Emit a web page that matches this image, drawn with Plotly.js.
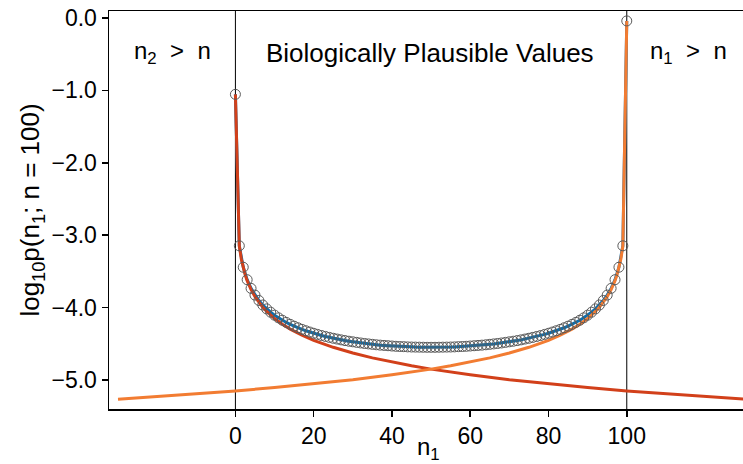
<!DOCTYPE html>
<html>
<head>
<meta charset="utf-8">
<script src="https://cdn.plot.ly/plotly-3.0.1.min.js"></script>
<style>html,body{margin:0;padding:0;background:#fff;}#chart{width:743px;height:464px;}</style>
</head>
<body>
<div id="chart"></div>
<script>
// n1 values for the sampled points (circles)
const n1Values = Array.from({length: 101}, (_, i) => i);
// log10 p(n1; n=100), n1 = 0..50 (left half)
const pointsLeft = [-1.054, -3.146, -3.442, -3.614, -3.734, -3.827, -3.901, -3.964, -4.017, -4.063,
  -4.104, -4.141, -4.174, -4.204, -4.231, -4.256, -4.278, -4.300, -4.319, -4.337,
  -4.354, -4.370, -4.385, -4.398, -4.411, -4.423, -4.434, -4.445, -4.455, -4.464,
  -4.472, -4.480, -4.488, -4.495, -4.501, -4.507, -4.513, -4.518, -4.522, -4.526,
  -4.530, -4.534, -4.537, -4.539, -4.542, -4.544, -4.545, -4.546, -4.547, -4.548,
  -4.548];
// n1 = 51..100 (right half)
const pointsRight = [-4.548, -4.547, -4.546, -4.545, -4.544, -4.542, -4.539, -4.537, -4.534, -4.530,
  -4.526, -4.522, -4.518, -4.513, -4.507, -4.501, -4.495, -4.488, -4.480, -4.472,
  -4.464, -4.455, -4.445, -4.434, -4.423, -4.411, -4.398, -4.385, -4.370, -4.354,
  -4.337, -4.319, -4.300, -4.278, -4.256, -4.231, -4.204, -4.174, -4.141, -4.104,
  -4.063, -4.017, -3.964, -3.901, -3.827, -3.734, -3.614, -3.442, -3.146, -0.040];
const pointValues = pointsLeft.concat(pointsRight);

// red curve (n2 > n term), sampled
const redX = [0, 1, 1.5, 2, 2.5, 3, 4, 5, 6, 7, 8, 9, 10, 12, 14, 17, 20, 25, 30, 35, 40, 45, 50, 60, 70, 80, 90, 100, 110, 120, 130];
const redY = [-1.054, -3.150, -3.326, -3.451, -3.548, -3.627, -3.752, -3.849, -3.928, -3.995, -4.053, -4.104, -4.150, -4.229, -4.296, -4.380, -4.451, -4.548, -4.627, -4.694, -4.752, -4.803, -4.849, -4.928, -4.995, -5.053, -5.104, -5.150, -5.191, -5.229, -5.264];
// orange curve (n1 > n term), sampled
const orangeX = [100, 99, 98.5, 98, 97.5, 97, 96, 95, 94, 93, 92, 91, 90, 88, 86, 83, 80, 75, 70, 65, 60, 55, 50, 40, 30, 20, 10, 0, -10, -20, -30];
const orangeY = [-0.040, -3.150, -3.326, -3.451, -3.548, -3.627, -3.752, -3.849, -3.928, -3.995, -4.053, -4.104, -4.150, -4.229, -4.296, -4.380, -4.451, -4.548, -4.627, -4.694, -4.752, -4.803, -4.849, -4.928, -4.995, -5.053, -5.104, -5.150, -5.191, -5.229, -5.264];

const xTicks = [0, 20, 40, 60, 80, 100];
const yTicks = [0, -1, -2, -3, -4, -5];

const FONT = 'Liberation Sans, Arial, Helvetica, sans-serif';

const traces = [
  {x: n1Values, y: pointValues, mode: 'lines', line: {color: '#0b6fb0', width: 3}, hoverinfo: 'skip'},
  {x: redX, y: redY, mode: 'lines', line: {color: '#d2401a', width: 3}, hoverinfo: 'skip'},
  {x: orangeX, y: orangeY, mode: 'lines', line: {color: '#f27c32', width: 3}, hoverinfo: 'skip'},
  {x: n1Values, y: pointValues, mode: 'markers',
   marker: {symbol: 'circle-open', size: 10, color: '#5a5a5a', line: {width: 1, color: '#5a5a5a'}}}
];

const layout = {
  width: 743, height: 464,
  margin: {l: 109, r: 0, t: 11, b: 55},
  showlegend: false,
  paper_bgcolor: '#ffffff', plot_bgcolor: '#ffffff',
  font: {family: FONT, color: '#000'},
  xaxis: {
    range: [-32.3, 129.7], tickvals: xTicks, ticktext: xTicks.map(String),
    showgrid: false, zeroline: false, showline: true, linecolor: '#000', linewidth: 1.5,
    mirror: true, ticks: 'outside', ticklen: 6, tickwidth: 1.5, tickcolor: '#000',
    tickfont: {size: 23, family: FONT},
    title: {text: ''}
  },
  yaxis: {
    range: [-5.40, 0.097], tickvals: yTicks, ticktext: yTicks.map(v => (v === 0 ? '0.0' : '\u2212' + Math.abs(v).toFixed(1))),
    showgrid: false, zeroline: false, showline: true, linecolor: '#000', linewidth: 1.5,
    ticks: 'outside', ticklen: 6, tickwidth: 1.5, tickcolor: '#000',
    tickfont: {size: 23, family: FONT},
    title: {text: 'log<sub>10</sub>p(n<sub>1</sub>; n = 100)', font: {size: 26, family: FONT}, standoff: 4}
  },
  shapes: [
    {type: 'line', xref: 'x', yref: 'paper', x0: 0, x1: 0, y0: 0, y1: 1, line: {color: '#000', width: 1}, layer: 'below'},
    {type: 'line', xref: 'x', yref: 'paper', x0: 100, x1: 100, y0: 0, y1: 1, line: {color: '#000', width: 1}, layer: 'below'}
  ],
  annotations: [
    {x: -16, y: -0.48, xref: 'x', yref: 'y', text: 'n<sub>2</sub>&nbsp; &gt; &nbsp;n', showarrow: false, font: {size: 24, family: FONT}},
    {x: 49.6, y: -0.48, xref: 'x', yref: 'y', text: 'Biologically Plausible Values', showarrow: false, font: {size: 26, family: FONT}},
    {x: 115.8, y: -0.48, xref: 'x', yref: 'y', text: 'n<sub>1</sub>&nbsp; &gt; &nbsp;n', showarrow: false, font: {size: 24, family: FONT}},
    {x: 49.3, y: 0, xref: 'x', yref: 'paper', yanchor: 'top', yshift: -22, text: 'n<sub>1</sub>', showarrow: false, font: {size: 24, family: FONT}}
  ]
};

Plotly.newPlot('chart', traces, layout, {displayModeBar: false, staticPlot: true});
</script>
</body>
</html>
